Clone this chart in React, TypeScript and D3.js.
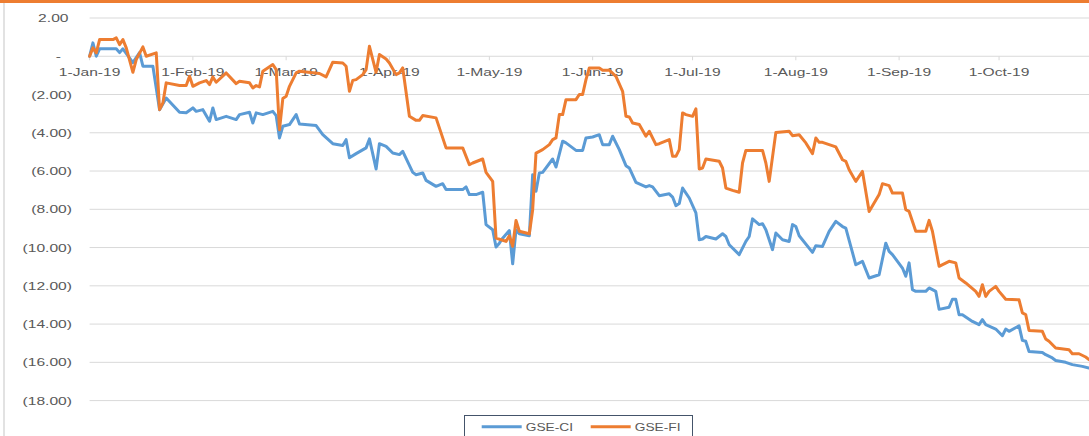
import React from 'react';
import * as d3 from 'd3';

// series + axis data (year 2019, MM-DD)
const seriesNames = ['GSE-CI', 'GSE-FI'];
const yTicks = [2, 0, -2, -4, -6, -8, -10, -12, -14, -16, -18];
const monthTicks = ['01-01', '02-01', '03-01', '04-01', '05-01', '06-01', '07-01', '08-01', '09-01', '10-01'];

const ciDates = [
    '01-01', '01-02', '01-03', '01-04', '01-09', '01-10', '01-11', '01-14', '01-16', '01-17', '01-20', '01-22', '01-24', '01-28', '01-30',
    '02-01', '02-02', '02-04', '02-06', '02-07', '02-08', '02-11', '02-14', '02-15', '02-18', '02-19', '02-20', '02-22', '02-25', '02-26', '02-27', '02-28',
    '03-02', '03-04', '03-05', '03-10', '03-12', '03-15', '03-18', '03-19', '03-20', '03-22', '03-25', '03-26', '03-28', '03-29', '03-31',
    '04-02', '04-04', '04-05', '04-08', '04-09', '04-11', '04-12', '04-15', '04-17', '04-18', '04-23', '04-24', '04-25', '04-27', '04-29', '04-30',
    '05-02', '05-03', '05-04', '05-05', '05-07', '05-08', '05-09', '05-10', '05-13', '05-14', '05-15', '05-16', '05-17', '05-20', '05-21', '05-23', '05-24', '05-27', '05-29', '05-30',
    '06-01', '06-03', '06-04', '06-06', '06-07', '06-09', '06-11', '06-12', '06-14', '06-17', '06-18', '06-19', '06-21', '06-24', '06-25', '06-26', '06-27', '06-28', '06-30',
    '07-02', '07-03', '07-04', '07-05', '07-08', '07-10', '07-11', '07-12', '07-15', '07-17', '07-18', '07-19', '07-21', '07-22', '07-23', '07-25', '07-26', '07-28', '07-30', '07-31',
    '08-01', '08-02', '08-06', '08-07', '08-09', '08-11', '08-13', '08-15', '08-16', '08-19', '08-21', '08-23', '08-26', '08-28', '08-29', '08-30',
    '09-02', '09-03', '09-04', '09-05', '09-06', '09-09', '09-10', '09-12', '09-13', '09-16', '09-17', '09-18', '09-19', '09-20', '09-23', '09-25', '09-26', '09-27', '09-30',
    '10-02', '10-03', '10-04', '10-07', '10-08', '10-09', '10-10', '10-14', '10-15', '10-17', '10-18', '10-21', '10-23', '10-26', '10-28',
];
const ciValues = [
    0, 0.7, 0, 0.39, 0.39, 0.19, 0.39, -0.33, 0.19, -0.52, -0.52, -2.8, -2.18, -2.93, -2.95,
    -2.7, -2.88, -2.79, -3.4, -2.7, -3.31, -3.14, -3.31, -3.05, -2.93, -3.49, -2.96, -3.05, -2.88, -3.1, -4.27, -3.66,
    -3.57, -3.05, -3.54, -3.62, -4.1, -4.57, -4.67, -4.36, -5.31, -5.09, -4.79, -4.32, -5.89, -4.57, -4.71,
    -5.06, -5.14, -4.97, -6.07, -6.19, -6.1, -6.49, -6.8, -6.66, -6.97, -6.97, -6.83, -7.23, -7.23, -7.11, -8.8,
    -9.07, -9.97, -9.77, -9.51, -9.11, -10.85, -9.07, -9.28, -9.38, -6.19, -7.06, -6.1, -6.07, -5.37, -5.79, -4.44, -4.53, -4.92, -4.92, -4.27,
    -4.22, -4.1, -4.62, -4.62, -4.18, -4.88, -5.72, -5.84, -6.59, -6.83, -6.76, -6.83, -7.29, -7.19, -7.36, -7.81, -7.7, -6.89, -7.41,
    -8.19, -9.59, -9.55, -9.42, -9.55, -9.28, -9.42, -9.85, -10.37, -9.68, -9.42, -8.5, -8.8, -8.75, -9.07, -10.11, -9.24, -9.59, -9.68, -8.8,
    -8.9, -9.38, -10.25, -9.9, -9.94, -9.15, -8.63, -8.9, -8.98, -10.9, -10.72, -11.59, -11.42, -9.77, -10.2, -10.37,
    -11.07, -11.5, -10.8, -12.2, -12.29, -12.29, -12.11, -12.29, -13.23, -13.12, -12.7, -12.7, -13.51, -13.51, -13.86, -14.03, -13.77, -14.03, -14.26,
    -14.61, -14.26, -14.38, -14.09, -14.85, -14.9, -15.43, -15.48, -15.6, -15.77, -15.9, -16.0, -16.12, -16.21, -16.3,
];

const fiDates = [
    '01-01', '01-02', '01-03', '01-04', '01-08', '01-09', '01-10', '01-11', '01-12', '01-14', '01-15', '01-17', '01-18', '01-21', '01-22', '01-23', '01-24', '01-28', '01-30', '01-31',
    '02-01', '02-03', '02-05', '02-06', '02-07', '02-08', '02-11', '02-14', '02-15', '02-18', '02-19', '02-20', '02-21', '02-22', '02-25', '02-26', '02-27', '02-28',
    '03-01', '03-02', '03-04', '03-05', '03-11', '03-13', '03-15', '03-18', '03-19', '03-20', '03-21', '03-22', '03-24', '03-25', '03-26', '03-28', '03-29', '03-31',
    '04-01', '04-03', '04-04', '04-05', '04-07', '04-09', '04-10', '04-11', '04-15', '04-18', '04-23', '04-25', '04-26', '04-29', '04-30',
    '05-02', '05-03', '05-05', '05-06', '05-07', '05-08', '05-09', '05-10', '05-13', '05-14', '05-15', '05-17', '05-19', '05-20', '05-21', '05-22', '05-23', '05-24', '05-27', '05-28', '05-29', '05-30', '05-31',
    '06-03', '06-04', '06-06', '06-08', '06-10', '06-11', '06-12', '06-13', '06-15', '06-17', '06-18', '06-20', '06-21', '06-24', '06-25', '06-26', '06-27', '06-28', '06-29',
    '07-01', '07-02', '07-03', '07-04', '07-05', '07-09', '07-10', '07-11', '07-13', '07-15', '07-16', '07-17', '07-22', '07-23', '07-24', '07-26', '07-30', '07-31',
    '08-02', '08-04', '08-06', '08-07', '08-08', '08-09', '08-13', '08-15', '08-16', '08-17', '08-19', '08-21', '08-23', '08-26', '08-27', '08-29', '08-30',
    '09-02', '09-03', '09-04', '09-06', '09-09', '09-10', '09-11', '09-13', '09-16', '09-18', '09-19', '09-21', '09-24', '09-25', '09-26', '09-27', '09-28', '09-30',
    '10-01', '10-03', '10-07', '10-08', '10-09', '10-10', '10-14', '10-15', '10-16', '10-18', '10-22', '10-23', '10-25', '10-27', '10-28',
];
const fiValues = [
    0, 0.44, 0.18, 0.87, 0.87, 0.96, 0.61, 0.87, 0.44, -0.84, -0.17, 0.49, 0, 0.18, -2.79, -2.44, -1.39, -1.53, -1.53, -1.05,
    -1.57, -1.39, -1.27, -1.48, -1.08, -1.36, -0.87, -1.43, -1.31, -1.39, -1.66, -1.53, -1.6, -0.78, -0.43, -0.7, -3.84, -2.21,
    -2.09, -1.57, -0.87, -0.78, -0.9, -1.08, -0.31, -0.35, -0.52, -1.83, -1.26, -1.22, -0.96, -0.7, 0.52, -0.84, 0.09, -0.14,
    -0.35, -0.96, -0.87, -0.61, -3.14, -3.35, -3.35, -3.1, -3.22, -4.79, -4.79, -5.67, -5.58, -5.37, -6.07,
    -6.54, -9.51, -9.62, -9.68, -9.38, -9.94, -8.58, -9.15, -9.28, -8.02, -5.06, -4.88, -4.62, -4.36, -4.27, -3.05, -3.05, -2.27, -2.27, -2.0, -2.0, -1.22, -0.61,
    -0.61, -0.73, -0.73, -1.05, -1.83, -3.14, -3.17, -3.49, -3.57, -4.18, -3.92, -4.62, -4.57, -4.36, -5.23, -5.23, -4.88, -2.96, -3.05,
    -3.14, -2.75, -5.89, -5.84, -5.37, -5.49, -5.84, -6.89, -7.01, -7.11, -5.58, -4.92, -4.92, -5.58, -6.54, -3.98, -3.92, -4.15,
    -4.1, -4.53, -5.09, -4.27, -4.5, -4.5, -4.74, -5.41, -5.49, -5.93, -6.54, -6.02, -8.11, -7.23, -6.66, -6.76, -7.15,
    -7.15, -8.02, -8.11, -9.15, -9.15, -8.58, -9.15, -10.98, -10.72, -10.8, -11.59, -11.85, -12.29, -12.55, -11.94, -12.55, -12.29, -12.03,
    -12.29, -12.7, -12.73, -13.42, -13.5, -14.33, -14.38, -14.78, -14.9, -15.25, -15.34, -15.55, -15.55, -15.72, -15.86,
];

const colors = ['#5B9BD5', '#ED7D31'];
const parse = d3.timeParse('%Y-%m-%d');
const toDate = (s: string) => parse(`2019-${s}`) as Date;

const W = 1089;
const H = 436;
const SX = 1.42; // the labels in the picture are stretched sideways

const fmtY = (v: number) => (v === 0 ? '-' : v < 0 ? `(${Math.abs(v).toFixed(2)})` : v.toFixed(2));
const fmtX = d3.timeFormat('%-d-%b-%y');

export default function App() {
    const x = d3.scaleTime().domain([toDate('01-01'), toDate('10-28')]).range([89.6, 1089]);
    const y = d3.scaleLinear().domain([2, -18]).range([18, 400.6]);

    const series = [
        { name: seriesNames[0], color: colors[0], pts: ciDates.map((d, i) => ({ d: toDate(d), v: ciValues[i] })) },
        { name: seriesNames[1], color: colors[1], pts: fiDates.map((d, i) => ({ d: toDate(d), v: fiValues[i] })) },
    ];

    const line = d3.line<{ d: Date; v: number }>()
        .x(p => x(p.d))
        .y(p => y(p.v));

    const font = '"Liberation Sans", Arial, sans-serif';

    return (
        <svg width={W} height={H} style={{ position: 'absolute', left: 0, top: 0, display: 'block', background: '#fff' }}>
            <rect x={0} y={0} width={W} height={3} fill="#ED7D31" />
            <line x1={4} x2={4} y1={3} y2={H} stroke="#d9d9d9" strokeWidth={1.5} />

            {/* gridlines */}
            {yTicks.map(t => (
                <line key={t} x1={x.range()[0]} x2={W} y1={y(t)} y2={y(t)} stroke="#d9d9d9" strokeWidth={1} />
            ))}

            {/* y labels */}
            {yTicks.map(t => (
                <text key={'l' + t}
                    transform={`translate(${t === 0 ? 61 : t > 0 ? 68.5 : 72},${y(t) + 4}) scale(${SX},1)`}
                    textAnchor="end" fontFamily={font} fontSize={11} fill="#595959">
                    {fmtY(t)}
                </text>
            ))}

            {/* month ticks + labels on the zero line */}
            {monthTicks.map(m => {
                const px = x(toDate(m));
                return (
                    <g key={m}>
                        <line x1={px} x2={px} y1={y(0)} y2={y(0) + 4} stroke="#d9d9d9" strokeWidth={1} />
                        <text transform={`translate(${px},${y(0) + 20}) scale(${SX},1)`}
                            textAnchor="middle" fontFamily={font} fontSize={11} fill="#595959">
                            {fmtX(toDate(m))}
                        </text>
                    </g>
                );
            })}

            {/* series */}
            {series.map(s => (
                <path key={s.name} d={line(s.pts) || ''} fill="none" stroke={s.color}
                    strokeWidth={3} strokeLinejoin="round" strokeLinecap="round" />
            ))}

            {/* legend */}
            <rect x={464.5} y={415.5} width={228} height={30} fill="#fff" stroke="#44546a" strokeWidth={1} />
            {series.map((s, i) => {
                const lx = 481.7 + i * 109;
                return (
                    <g key={'lg' + s.name}>
                        <line x1={lx} x2={lx + 40} y1={426.7} y2={426.7} stroke={s.color} strokeWidth={3} />
                        <text transform={`translate(${lx + 44},${430.7}) scale(1.25,1)`}
                            fontFamily={font} fontSize={11} fill="#595959">
                            {s.name}
                        </text>
                    </g>
                );
            })}
        </svg>
    );
}
